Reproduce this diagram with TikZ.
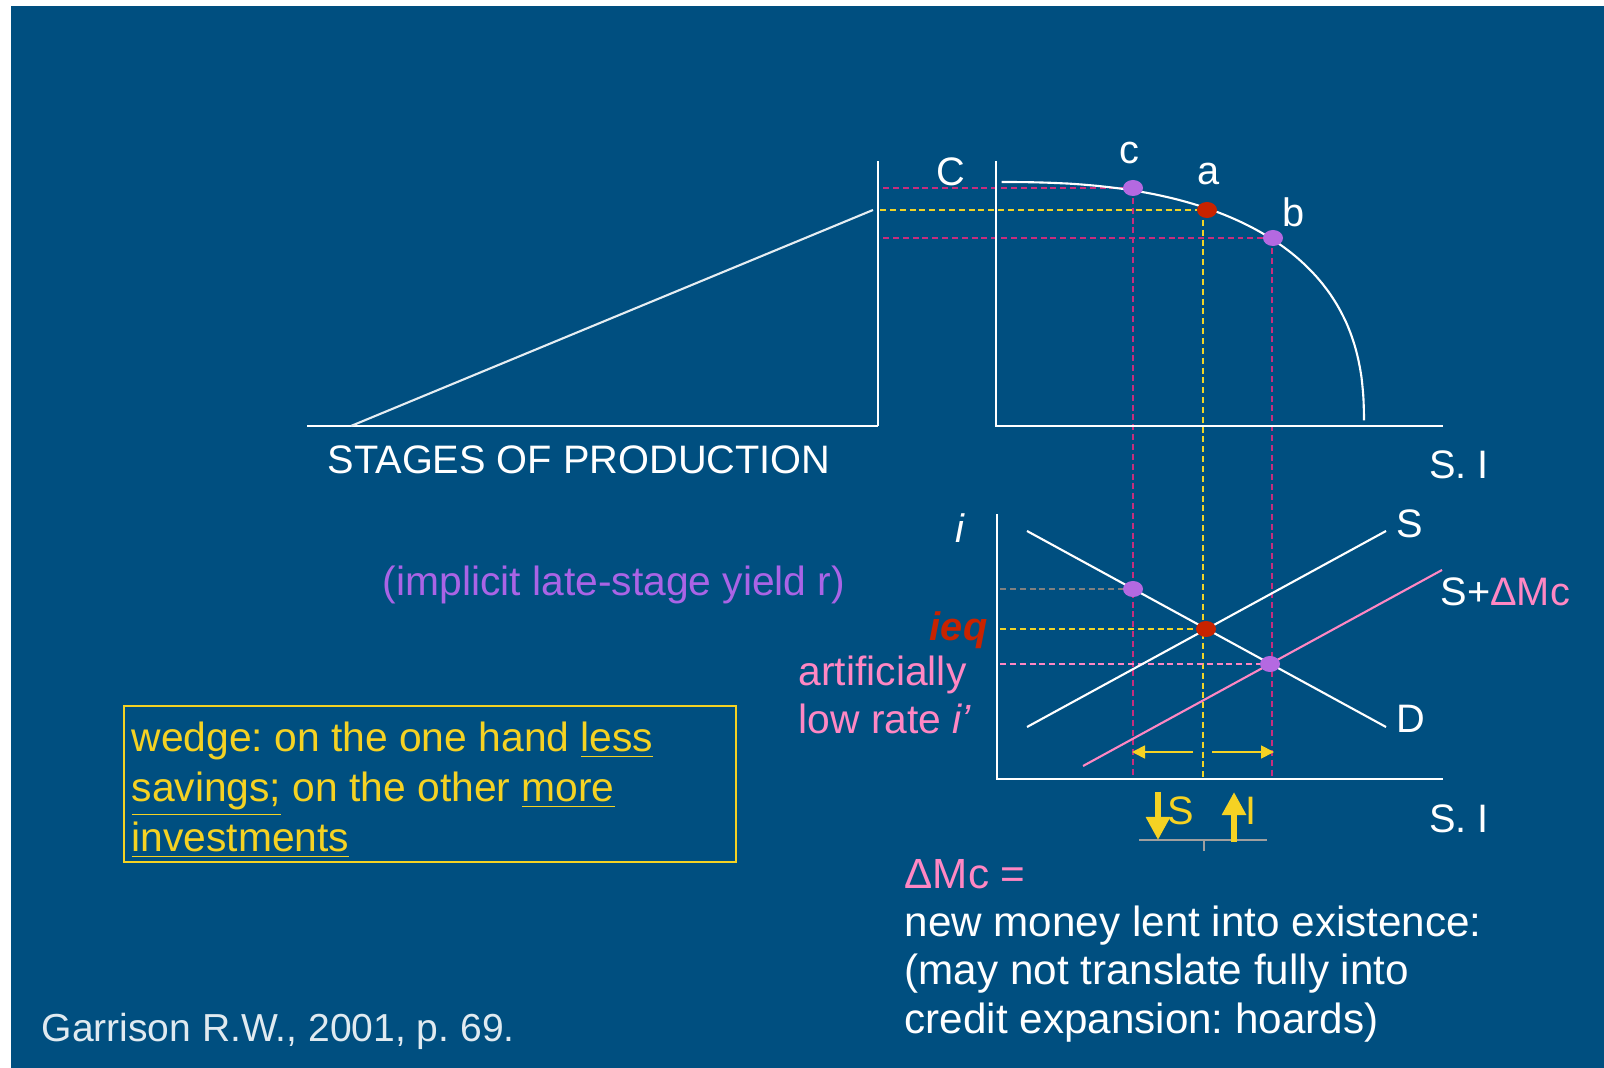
\documentclass[tikz,border=0pt]{standalone}
\usepackage{fontspec}
\setmainfont{Liberation Sans}
\usetikzlibrary{arrows.meta,shapes.geometric,positioning}
\frenchspacing

\definecolor{slidebg}{RGB}{0,79,128}
\definecolor{ddmag}{RGB}{200,45,125}
\definecolor{ddyel}{RGB}{240,212,40}
\definecolor{ptpurp}{RGB}{180,105,225}
\definecolor{ptred}{RGB}{200,35,0}
\definecolor{lpink}{RGB}{255,135,195}
\definecolor{txtpurp}{RGB}{170,100,230}
\definecolor{gyel}{RGB}{245,210,35}

\begin{document}
\begin{tikzpicture}[
  x=0.01cm, y=-0.01cm,
  ln/.style   = {white, line width=0.6pt},
  dd/.style   = {line width=0.6pt, dash pattern=on 1.7pt off 1.1pt},
  pt/.style   = {ellipse, inner sep=0pt, minimum width=2mm, minimum height=1.6mm},
  lbl/.style  = {white, inner sep=0pt, font=\fontsize{11.3}{13.6}\selectfont},
  blbl/.style = {inner sep=0pt, align=left, font=\fontsize{12}{13.66}\selectfont},
  shiftarr/.style = {gyel, line width=0.5pt, -{Triangle[length=1.3mm, width=1.3mm]}},
  fatarr/.style   = {gyel, line width=1.7pt, -{Triangle[length=2.3mm, width=2.3mm]}},
]
\fill[white] (0,0) rectangle (1604,1068);
\fill[slidebg] (11,6) rectangle (1604,1068);
\useasboundingbox (0,0) rectangle (1604,1068);

%% ---- stages of production -------------------------------------------------
\draw[ln] (307,426) -- (878,426);
\draw[ln, white!90!slidebg] (351,426) -- (873,210);
\draw[ln] (878,161) -- (878,426);
\node[lbl] (stages) at (579,460) {STAGES OF PRODUCTION};
\node[lbl] (cons) at (951,172) {C};

%% ---- production possibilities frontier ------------------------------------
\coordinate (pc) at (1133,188);
\coordinate (pa) at (1207,210);
\coordinate (pb) at (1273,238);
\draw[dd, ddmag] (883,188) -- (pc);
\draw[dd, ddyel] (880,210) -- (pa);
\draw[dd, ddmag] (883,238) -- (pb);
\draw[dd, ddmag] (1133,188) -- (1133,777);
\draw[dd, ddyel] (1203,210) -- (1203,777);
\draw[dd, ddmag] (1272,238) -- (1272,777);
\draw[ln] (996,161) -- (996,426) -- (1443,426);
\draw[ln] plot[domain=0.5:89.7, samples=90]
  ({996+368*pow(cos(\x),0.8)}, {426-244*pow(sin(\x),0.8)});
\node[pt, fill=ptpurp] (dc) at (pc) {};
\node[pt, fill=ptred]  (da) at (pa) {};
\node[pt, fill=ptpurp] (db) at (pb) {};
\node[lbl] (lc) at (1129,153) {c};
\node[lbl] (la) at (1209,174) {a};
\node[lbl] (lb) at (1294,212) {b};
\node[lbl] (si1) at (1459,465) {S. I};

%% ---- loanable funds market ------------------------------------------------
\coordinate (qc) at (1133,589);
\coordinate (qa) at (1206,629);
\coordinate (qb) at (1270,664);
\draw[dd, gray] (1000,589) -- (qc);
\draw[dd, ddyel] (1000,629) -- (qa);
\draw[dd, lpink] (1000,664) -- (qb);
\draw[ln] (997,514) -- (997,779) -- (1443,779);
\draw[ln] (1027,531) -- (1386,727);
\draw[ln] (1027,727) -- (1386,531);
\draw[lpink, line width=0.6pt] (1083,766) -- (1442,570);
\node[pt, fill=ptpurp] (ec) at (qc) {};
\node[pt, fill=ptred]  (ea) at (qa) {};
\node[pt, fill=ptpurp] (eb) at (qb) {};
\coordinate (sl) at (1132,752);
\coordinate (sr) at (1274,752);
\draw[shiftarr] (1193,752) -- (sl);
\draw[shiftarr] (1212,752) -- (sr);
\node[lbl] (li) at (960,528) {\itshape i};
\node[lbl] (ls) at (1410,524) {S};
\node[lbl] (ld) at (1411,719) {D};
\node[lbl, anchor=west] (lsm) at (1440,592) {S+\textcolor{lpink}{ΔMc}};
\node[lbl] (si2) at (1459,819) {S. I};
\node[lbl, anchor=east, text=ptred, font=\fontsize{11.3}{13.6}\selectfont\bfseries\itshape]
  (ieq) at (988,630) {ieq};
\node[lbl, anchor=base west, align=left, text=lpink, font=\fontsize{11.6}{13.66}\selectfont]
  (low) at (798,734) {artificially\\low rate \textit{i’}};
\node[lbl, text=txtpurp, font=\fontsize{11.6}{13.6}\selectfont]
  (yield) at (614,585) {(implicit late-stage yield r)};

%% ---- seesaw below the axis ------------------------------------------------
\coordinate (sw1) at (1139,840);
\coordinate (sw2) at (1267,840);
\draw[gray!75, line width=0.8pt] (sw1) -- (sw2) (1204,840) -- (1204,851);
\draw[fatarr] (1158,792) -- (1158,840);
\draw[fatarr] (1234,842) -- (1234,792);
\node[lbl, text=gyel] (ds) at (1181,811) {S};
\node[lbl, text=gyel] (ui) at (1251,811) {I};

%% ---- notes ----------------------------------------------------------------
\draw[gyel, line width=0.4pt] (124,706) rectangle (736,862);
\node[blbl, anchor=base west, text=gyel, font=\fontsize{11.6}{14.2}\selectfont] (wedge) at (131,851)
  {wedge: on the one hand \underline{less}\\
   \underline{savings;} on the other \underline{more}\\
   \underline{investments}};
\node[blbl, anchor=base west, text=white] (money) at (904,1033)
  {\textcolor{lpink}{ΔMc =}\\
   new money lent into existence:\\
   (may not translate fully into\\
   credit expansion: hoards)};
\node[lbl, anchor=west, text=white!88!slidebg, font=\fontsize{11.1}{13}\selectfont]
  (cite) at (41,1031) {Garrison R.W., 2001, p. 69.};

\end{tikzpicture}
\end{document}
